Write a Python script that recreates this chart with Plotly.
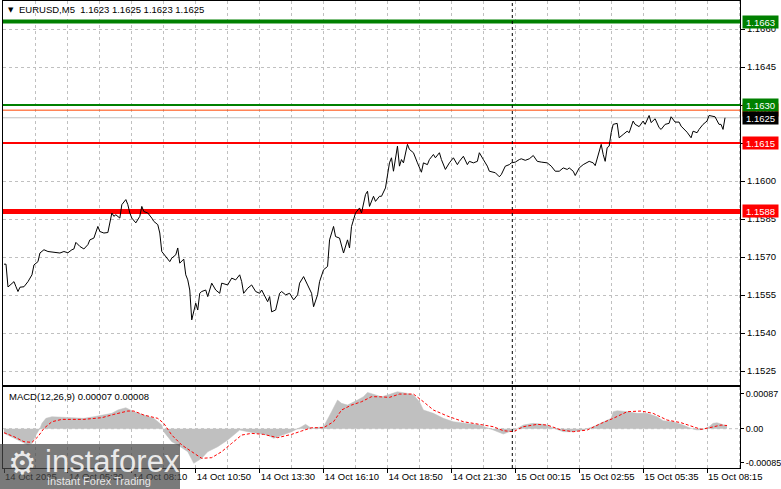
import plotly.graph_objects as go

# ---------------- data ----------------
price_bars = [0, 1, 2, 4, 5, 6, 7, 8, 10, 12, 14, 15, 17, 18, 20, 22, 25, 28, 30, 32, 34, 35, 36, 38, 40,
              42, 43, 45, 47, 48, 50, 52, 54, 55, 56, 58, 59, 61, 62, 63, 64, 66, 68, 69, 70, 72, 74, 75,
              77, 78, 79, 81, 83, 84, 86, 87, 88, 90, 91, 92, 93, 94, 96, 97, 98, 99, 101, 102, 104, 106,
              108, 109, 112, 114, 116, 118, 119, 120, 122, 124, 126, 128, 129, 132, 133, 134, 136, 138,
              139, 141, 143, 145, 147, 148, 150, 152, 154, 155, 157, 158, 160, 162, 163, 165, 166, 168,
              170, 172, 173, 174, 176, 178, 179, 181, 182, 183, 185, 186, 188, 189, 191, 193, 194, 195,
              197, 198, 199, 200, 202, 203, 205, 207, 209, 210, 212, 213, 215, 216, 218, 219, 221, 223,
              225, 227, 228, 230, 232, 233, 235, 237, 238, 240, 242, 243, 246, 248, 249, 251, 253, 254,
              256, 258, 259, 261, 263, 265, 267, 269, 272, 274, 276, 278, 280, 282, 283, 285, 286, 288,
              290, 293, 295, 296, 298, 299, 300, 301, 302, 303, 304, 305, 307, 308, 310, 312, 313, 315,
              316, 318, 320, 321, 323, 324, 326, 328, 329, 331, 333, 334, 336, 338, 339, 342, 344, 345,
              347, 348, 350, 352, 353, 354, 356, 358, 359, 360, 361]
price_close = [1.15672, 1.15672, 1.15582, 1.15598, 1.15603, 1.15583, 1.15564, 1.15581, 1.15583, 1.15603,
               1.15630, 1.15669, 1.15682, 1.15716, 1.15729, 1.15722, 1.15720, 1.15716, 1.15722, 1.15717,
               1.15729, 1.15732, 1.15758, 1.15742, 1.15732, 1.15749, 1.15768, 1.15775, 1.15821, 1.15801,
               1.15795, 1.15797, 1.15874, 1.15861, 1.15867, 1.15854, 1.15907, 1.15927, 1.15907, 1.15874,
               1.15854, 1.15835, 1.15861, 1.15900, 1.15880, 1.15874, 1.15854, 1.15841, 1.15828, 1.15795,
               1.15722, 1.15702, 1.15682, 1.15696, 1.15709, 1.15736, 1.15676, 1.15692, 1.15630, 1.15610,
               1.15570, 1.15452, 1.15518, 1.15491, 1.15557, 1.15564, 1.15570, 1.15544, 1.15597, 1.15570,
               1.15557, 1.15597, 1.15590, 1.15617, 1.15610, 1.15630, 1.15603, 1.15557, 1.15577, 1.15590,
               1.15564, 1.15557, 1.15570, 1.15524, 1.15544, 1.15484, 1.15491, 1.15557, 1.15564, 1.15551,
               1.15557, 1.15531, 1.15551, 1.15597, 1.15623, 1.15590, 1.15557, 1.15504, 1.15551, 1.15603,
               1.15650, 1.15663, 1.15768, 1.15821, 1.15781, 1.15775, 1.15716, 1.15768, 1.15736, 1.15821,
               1.15874, 1.15894, 1.15874, 1.15947, 1.15960, 1.15900, 1.15940, 1.15920, 1.15940, 1.15940,
               1.15973, 1.16072, 1.16092, 1.16039, 1.16138, 1.16059, 1.16085, 1.16072, 1.16145, 1.16125,
               1.16112, 1.16072, 1.16035, 1.16072, 1.16065, 1.16085, 1.16105, 1.16092, 1.16112, 1.16085,
               1.16046, 1.16072, 1.16092, 1.16065, 1.16078, 1.16098, 1.16065, 1.16078, 1.16072, 1.16078,
               1.16112, 1.16085, 1.16059, 1.16039, 1.16033, 1.16017, 1.16026, 1.16059, 1.16065, 1.16072,
               1.16075, 1.16085, 1.16088, 1.16082, 1.16088, 1.16101, 1.16078, 1.16075, 1.16072, 1.16059,
               1.16039, 1.16039, 1.16052, 1.16046, 1.16052, 1.16039, 1.16022, 1.16052, 1.16065, 1.16078,
               1.16072, 1.16061, 1.16112, 1.16145, 1.16105, 1.16078, 1.16132, 1.16138, 1.16191, 1.16224,
               1.16228, 1.16171, 1.16184, 1.16197, 1.16191, 1.16237, 1.16224, 1.16215, 1.16237, 1.16224,
               1.16259, 1.16231, 1.16246, 1.16211, 1.16204, 1.16224, 1.16228, 1.16254, 1.16233, 1.16233,
               1.16217, 1.16193, 1.16171, 1.16197, 1.16191, 1.16204, 1.16224, 1.16237, 1.16259, 1.16257,
               1.16254, 1.16224, 1.16224, 1.16204, 1.16250]

macd_bars = [0, 2, 7, 12, 14, 16, 18, 19, 21, 24, 32, 40, 45, 49, 54, 57, 61, 65, 70, 75, 79, 80, 84, 87,
             92, 95, 99, 102, 107, 112, 115, 118, 122, 127, 132, 135, 139, 144, 149, 151, 154, 157, 160,
             164, 167, 169, 172, 177, 180, 182, 187, 189, 192, 197, 202, 205, 208, 210, 215, 220, 225,
             232, 238, 243, 247, 250, 253, 257, 260, 265, 270, 275, 280, 285, 290, 295, 300, 304, 305,
             307, 312, 317, 322, 327, 330, 335, 340, 344, 347, 350, 353, 355, 357, 360, 362]
macd_main = [-0.000117, -0.000159, -0.000284, -0.000409, -0.000367, -0.000159, 0.000008, 0.000134,
             0.000259, 0.000301, 0.000276, 0.000259, 0.000301, 0.000342, 0.000384, 0.000468, 0.000526,
             0.000426, 0.000342, 0.000259, 0.000092, -0.000075, -0.000326, -0.000409, -0.000576,
             -0.000868, -0.000743, -0.000576, -0.000451, -0.000284, -0.000159, -0.000033, -0.000075,
             -0.000117, -0.000159, -0.000242, -0.000159, -0.000075, 0.000050, 0.000109, 0.000008,
             0.000025, 0.000050, 0.000426, 0.000718, 0.000635, 0.000593, 0.000718, 0.000802, 0.000910,
             0.000843, 0.000800, 0.000843, 0.000927, 0.000885, 0.000843, 0.000676, 0.000468, 0.000384,
             0.000259, 0.000175, 0.000134, 0.000092, 0.000008, -0.000075, -0.000134, -0.000075,
             0.000008, 0.000092, 0.000134, 0.000109, 0.000008, -0.000075, -0.000075, -0.000033,
             0.000050, 0.000175, 0.000259, 0.000426, 0.000451, 0.000426, 0.000384, 0.000384, 0.000301,
             0.000200, 0.000175, 0.000092, 0.000008, -0.000033, -0.000017, 0.000050, 0.000134, 0.000150,
             0.000109, 0.000067]

signal_bars = [0, 5, 10, 14, 17, 20, 24, 29, 40, 49, 55, 62, 65, 70, 77, 80, 84, 89, 94, 99, 104, 109,
               114, 119, 124, 130, 137, 144, 149, 154, 160, 165, 169, 174, 179, 184, 188, 193, 198, 205,
               210, 215, 222, 230, 238, 245, 250, 255, 260, 267, 272, 279, 285, 292, 299, 305, 312, 319,
               325, 332, 339, 345, 349, 354, 359, 362]
macd_signal = [-0.000100, -0.000200, -0.000326, -0.000342, -0.000200, 0.000008, 0.000175, 0.000234,
               0.000234, 0.000276, 0.000359, 0.000443, 0.000443, 0.000342, 0.000259, 0.000134,
               -0.000159, -0.000409, -0.000576, -0.000743, -0.000726, -0.000576, -0.000367, -0.000159,
               -0.000117, -0.000142, -0.000225, -0.000142, -0.000058, 0.000025, 0.000025, 0.000175,
               0.000468, 0.000593, 0.000676, 0.000802, 0.000800, 0.000785, 0.000868, 0.000868,
               0.000676, 0.000468, 0.000317, 0.000175, 0.000109, 0.000050, -0.000050, -0.000075,
               0.000050, 0.000109, 0.000092, -0.000033, -0.000075, -0.000033, 0.000134, 0.000259,
               0.000426, 0.000443, 0.000384, 0.000217, 0.000150, 0.000050, -0.000017, 0.000033,
               0.000092, 0.000080]

tick_bars = [0, 32, 64, 96, 128, 160, 192, 224, 256, 288, 320, 352]
tick_labels = ["14 Oct 2025", "14 Oct 05:30", "14 Oct 08:10", "14 Oct 10:50", "14 Oct 13:30",
               "14 Oct 16:10", "14 Oct 18:50", "14 Oct 21:30", "15 Oct 00:15", "15 Oct 02:55",
               "15 Oct 05:35", "15 Oct 08:15"]
day_separator_bar = 254.5

level_prices = [1.1628, 1.1663, 1.1630, 1.1625, 1.1615, 1.1588]
level_labels = ["1.1628", "1.1663", "1.1630", "1.1625", "1.1615", "1.1588"]
level_line_colors = ["#FF4500", "#008000", "#008000", "#C0C0C0", "#FF0000", "#FF0000"]
level_box_colors = ["#FF4500", "#008000", "#008000", "#000000", "#FF0000", "#FF0000"]
level_widths = [1, 4, 2, 1, 2, 5]

title_text = "EURUSD,M5\u00a0\u00a01.1623 1.1625 1.1623 1.1625"
macd_text = "MACD(12,26,9) 0.00007 0.00008"

# ---------------- figure ----------------
W, H = 781, 489
FONT = "Liberation Sans"
X_RANGE = [-0.5, 368.5]
xdom = [3 / W, 740 / W]
main_dom = [1 - 385 / H, 1 - 1 / H]
macd_dom = [1 - 468 / H, 1 - 387 / H]

fig = go.Figure()
# horizontal level lines as traces (drawn over the grid, under the price line)
for p, c, w in zip(level_prices, level_line_colors, level_widths):
    fig.add_trace(go.Scatter(x=X_RANGE, y=[p, p], mode="lines", line=dict(color=c, width=w),
                             xaxis="x", yaxis="y", showlegend=False, hoverinfo="skip"))
fig.add_trace(go.Scatter(x=price_bars, y=price_close, mode="lines",
                         line=dict(color="black", width=1), xaxis="x", yaxis="y",
                         showlegend=False, hoverinfo="skip"))
fig.add_trace(go.Scatter(x=macd_bars, y=macd_main, mode="lines", fill="tozeroy",
                         fillcolor="#C0C0C0", line=dict(color="#C0C0C0", width=0.5),
                         xaxis="x2", yaxis="y2", showlegend=False, hoverinfo="skip"))
fig.add_trace(go.Scatter(x=signal_bars, y=macd_signal, mode="lines",
                         line=dict(color="#FF0000", width=1, dash="3px,2px"),
                         xaxis="x2", yaxis="y2", showlegend=False, hoverinfo="skip"))

grid = dict(showgrid=True, gridcolor="#C0C0C0", griddash="3px,3px", gridwidth=1)
minor = dict(tickmode="linear", tick0=16, dtick=32, showgrid=True, gridcolor="#C0C0C0",
             griddash="3px,3px", ticks="")
axfont = dict(family=FONT, size=9.5, color="black")
axfont_small = dict(family=FONT, size=9, color="black")

fig.update_layout(
    width=W, height=H, autosize=False,
    margin=dict(l=0, r=0, t=0, b=0, pad=0),
    paper_bgcolor="white", plot_bgcolor="white",
    xaxis=dict(domain=xdom, range=X_RANGE, anchor="y", tickmode="array", tickvals=tick_bars,
               ticktext=[""] * len(tick_bars), ticks="", showticklabels=False, zeroline=False,
               automargin=False,
               showline=True, mirror=True, linecolor="black", linewidth=1, minor=minor, **grid),
    yaxis=dict(domain=main_dom, range=[1.15195, 1.16711], anchor="x", side="right",
               tickmode="linear", tick0=1.1525, dtick=0.0015, tickformat=".4f",
               ticks="outside", ticklen=4, tickcolor="black", tickfont=axfont, zeroline=False,
               automargin=False,
               showline=True, mirror=True, linecolor="black", linewidth=1, **grid),
    xaxis2=dict(domain=xdom, range=X_RANGE, anchor="y2", tickmode="array", tickvals=tick_bars,
                ticktext=tick_labels, ticks="outside", ticklen=4, tickcolor="black",
                tickangle=0, automargin=False,
                ticklabelposition="outside right", tickfont=axfont, zeroline=False,
                showline=True, mirror=True, linecolor="black", linewidth=1, minor=minor, **grid),
    yaxis2=dict(domain=macd_dom, range=[-0.000985, 0.001045], anchor="x2", side="right",
                tickmode="array", tickvals=[0.00087, 0.0, -0.00085],
                ticktext=["0.00087", "0.00", "-0.00085"], ticks="outside", ticklen=3,
                tickcolor="black", tickfont=axfont_small, showgrid=False, zeroline=False,
                automargin=False,
                showline=True, mirror=True, linecolor="black", linewidth=1),
)

shapes = []
# zero line in MACD panel
shapes.append(dict(type="line", xref="x2 domain", yref="y2", x0=0, x1=1, y0=0, y1=0,
                   line=dict(color="#C0C0C0", width=1, dash="3px,3px"), layer="below"))
# day separator
shapes.append(dict(type="line", xref="x", yref="paper", x0=day_separator_bar, x1=day_separator_bar,
                   y0=macd_dom[0], y1=main_dom[1], line=dict(color="black", width=1, dash="3px,3px"),
                   layer="above"))
# watermark box
shapes.append(dict(type="rect", xref="paper", yref="paper", x0=0, x1=180 / W, y0=0,
                   y1=(H - 444) / H, fillcolor="rgba(70,70,70,0.72)", line=dict(width=0),
                   layer="above"))

annotations = []
for p, t, bc in zip(level_prices, level_labels, level_box_colors):
    annotations.append(dict(xref="paper", yref="y", x=742 / W, y=p, xanchor="left",
                            yanchor="middle", text=t, showarrow=False, bgcolor=bc,
                            width=33, height=10, borderpad=1,
                            font=dict(family=FONT, size=9.5, color="white")))
annotations.append(dict(xref="paper", yref="paper", x=6 / W, y=1 - 10 / H, xanchor="left",
                        yanchor="middle", text="\u25bc", showarrow=False,
                        font=dict(family="DejaVu Sans", size=7, color="black")))
annotations.append(dict(xref="paper", yref="paper", x=17 / W, y=1 - 10 / H, xanchor="left",
                        yanchor="middle", text=title_text, showarrow=False,
                        font=dict(family=FONT, size=9.5, color="black")))
annotations.append(dict(xref="paper", yref="paper", x=7 / W, y=1 - 396 / H, xanchor="left",
                        yanchor="middle", text=macd_text, showarrow=False,
                        font=dict(family=FONT, size=9.5, color="black")))
# watermark text
annotations.append(dict(xref="paper", yref="paper", x=6 / W, y=1 - 463 / H, xanchor="left",
                        yanchor="middle", text="\u2699", showarrow=False,
                        font=dict(family="DejaVu Sans", size=32, color="rgba(255,255,255,0.85)")))
annotations.append(dict(xref="paper", yref="paper", x=43 / W, y=1 - 461 / H, xanchor="left",
                        yanchor="middle", text="instaforex", showarrow=False,
                        font=dict(family=FONT, size=31, color="rgba(255,255,255,0.85)")))
annotations.append(dict(xref="paper", yref="paper", x=45 / W, y=1 - 481 / H, xanchor="left",
                        yanchor="middle", text="Instant Forex Trading", showarrow=False,
                        font=dict(family=FONT, size=11, color="rgba(255,255,255,0.85)")))

fig.update_layout(shapes=shapes, annotations=annotations)
fig.write_html("out.html", config={"displayModeBar": False},
               post_script="document.body.style.margin='0';document.body.style.overflow='hidden';")
